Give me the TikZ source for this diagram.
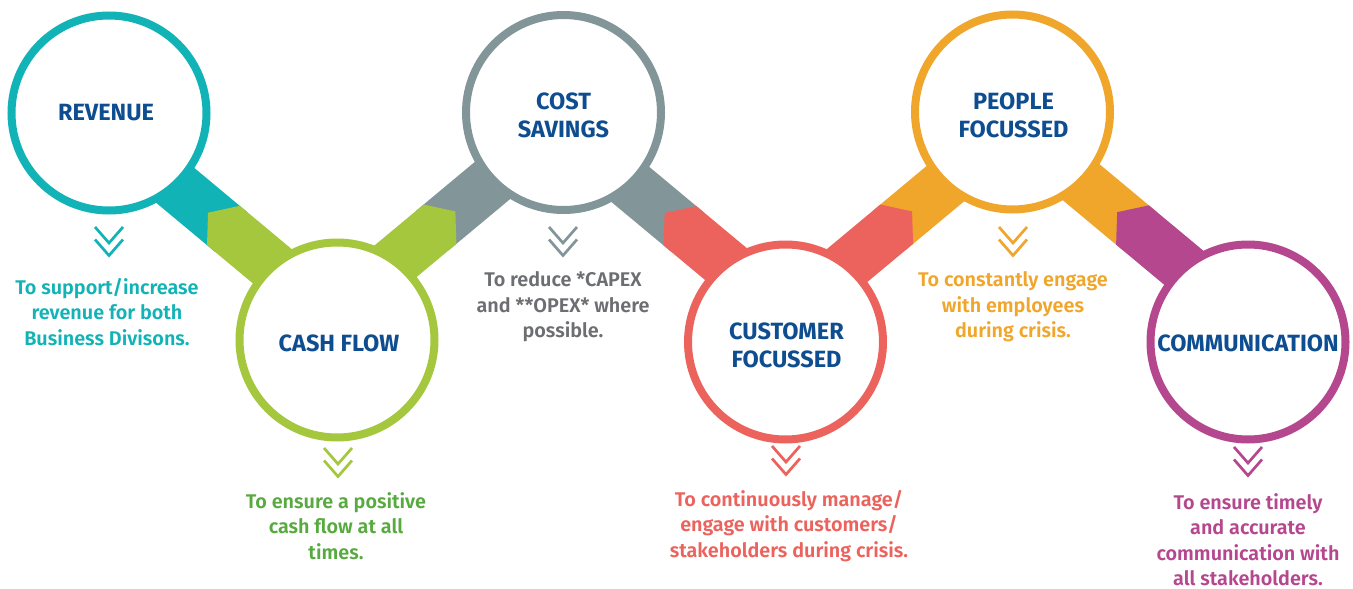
\documentclass[tikz,border=0pt]{standalone}
\usepackage{fontspec}
\setmainfont{Fira Sans}
\IfFontExistsTF{Fira Sans SemiBold}{\newfontfamily\descfont{Fira Sans SemiBold}}{\newcommand\descfont{\bfseries}}
\usetikzlibrary{calc}
\definecolor{cteal}{HTML}{12B3B6}
\definecolor{cgreen}{HTML}{A4C73E}
\definecolor{cgray}{HTML}{82969A}
\definecolor{cred}{HTML}{EC625C}
\definecolor{corange}{HTML}{F0A62B}
\definecolor{cpurple}{HTML}{B5478E}
\definecolor{ctitle}{HTML}{0E4D8F}
\definecolor{tgreen}{HTML}{58AA40}
\definecolor{tgray}{HTML}{6D6E71}
\newcommand\bandDown[3]{%
  \begin{scope}[shift={#1}, rotate=-39.8]
    \fill[#2] (-120,-25.6) rectangle (10,25.6);
    \fill[#3] (0,-25.6) -- (-20,0) -- (0,25.6) -- (120,25.6) -- (120,-25.6) -- cycle;
  \end{scope}}
\newcommand\bandUp[3]{%
  \begin{scope}[shift={#1}, rotate=39.8]
    \fill[#2] (-10,-25.6) rectangle (120,25.6);
    \fill[#3] (0,-25.6) -- (20,0) -- (0,25.6) -- (-120,25.6) -- (-120,-25.6) -- cycle;
  \end{scope}}
\newcommand\chev[2]{%
  \draw[#1, line width=2.7pt] ($(#2)+(-14,0)$) -- ++(14,16) -- ++(14,-16);
  \draw[#1, line width=2.7pt] ($(#2)+(-14,12.5)$) -- ++(14,16) -- ++(14,-16);}
\begin{document}
\begin{tikzpicture}[x=1pt, y=-1pt,
  ring/.style={circle, draw=#1, line width=8pt, fill=white, minimum size=195pt, inner sep=0pt},
  title/.style={text=ctitle, font=\bfseries\fontsize{23.5}{28}\selectfont, align=center, inner sep=0pt},
  desc/.style={text=#1, font=\descfont\fontsize{19.8}{25.5}\selectfont, align=center, inner sep=0pt}]
\useasboundingbox[fill=white] (0,0) rectangle (1353,589);
% band midpoints
\coordinate (b1) at (223.4,225.5);
\coordinate (b2) at (440,224.2);
\coordinate (b3) at (680,225.8);
\coordinate (b4) at (896.7,224.2);
\coordinate (b5) at (1132.5,225);
\bandDown{(b1)}{cteal}{cgreen}
\bandUp{(b2)}{cgray}{cgreen}
\bandDown{(b3)}{cgray}{cred}
\bandUp{(b4)}{corange}{cred}
\bandDown{(b5)}{corange}{cpurple}
% circles
\node[ring=cteal] (rev) at (109,113) {};
\node[ring=cgreen] (cash) at (337,340) {};
\node[ring=cgray] (cost) at (563.5,112.5) {};
\node[ring=cred] (cust) at (785.5,342) {};
\node[ring=corange] (peop) at (1012.5,112) {};
\node[ring=cpurple] (comm) at (1248,342) {};
% titles
\node[title] (t1) at ($(rev)+(-3,-0.5)$) {REVENUE};
\node[title] (t2) at ($(cash)+(2,3)$) {CASH FLOW};
\node[title] (t3) at ($(cost)+(0,3)$) {COST\\SAVINGS};
\node[title] (t4) at ($(cust)+(1,3)$) {CUSTOMER\\FOCUSSED};
\node[title] (t5) at ($(peop)+(1,3)$) {PEOPLE\\FOCUSSED};
\node[title] (t6) at ($(comm)+(0,1)$) {COMMUNICATION};
% chevrons
\coordinate (v1) at (109,227);
\coordinate (v2) at (338,448);
\coordinate (v3) at (563,227);
\coordinate (v4) at (786,446);
\coordinate (v5) at (1013,227);
\coordinate (v6) at (1248,447);
\chev{cteal}{v1}
\chev{cgreen}{v2}
\chev{cgray}{v3}
\chev{cred}{v4}
\chev{corange}{v5}
\chev{cpurple}{v6}
% descriptions
\node[desc=cteal] (d1) at (107,312) {To support/increase\\revenue for both\\Business Divisons.};
\node[desc=tgreen] (d2) at (336,526) {To ensure a positive\\cash flow at all\\times.};
\node[desc=tgray] (d3) at (563,307) {To reduce *CAPEX\\and **OPEX* where\\possible.};
\node[desc=cred] (d4) at (789,526) {To continuously manage/\\engage with customers/\\stakeholders during crisis.};
\node[desc=corange] (d5) at (1013,307) {To constantly engage\\with employees\\during crisis.};
\node[desc=cpurple] (d6) at (1248,539.5) {To ensure timely\\and accurate\\communication with\\all stakeholders.};
\end{tikzpicture}
\end{document}
